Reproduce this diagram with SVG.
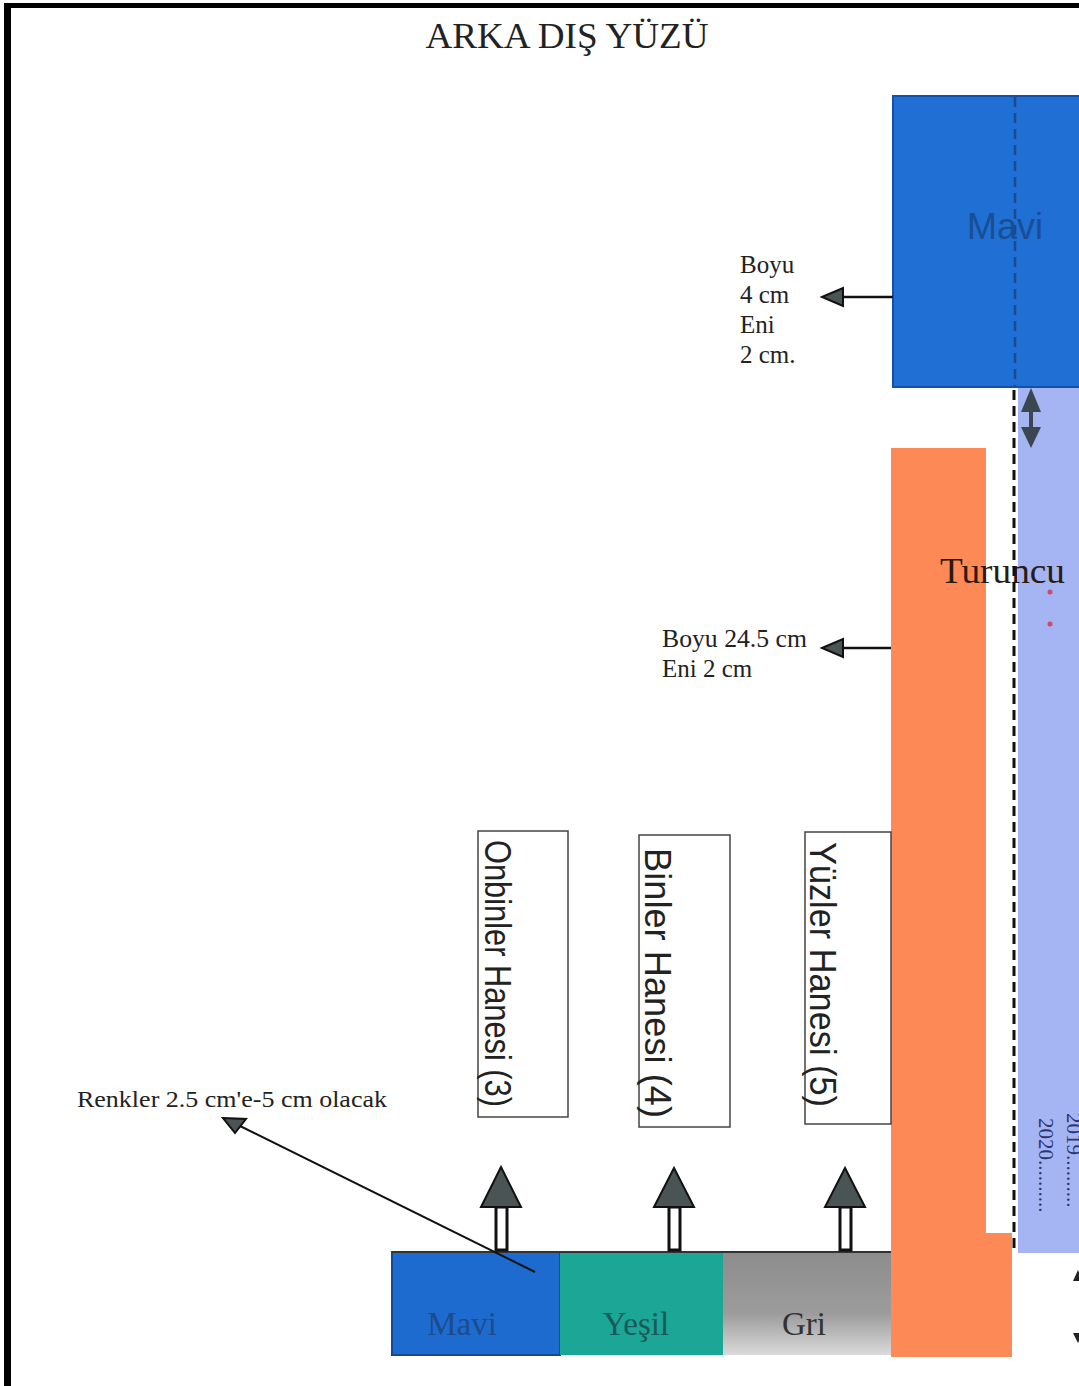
<svg xmlns="http://www.w3.org/2000/svg" width="1079" height="1386" viewBox="0 0 1079 1386">
<style>
.serif{font-family:"Liberation Serif","Times New Roman",serif;}
.sans{font-family:"Liberation Sans",Arial,sans-serif;}
.lbl{font-size:25px;fill:#222;}
.vt{font-size:36px;fill:#222;}
.box{fill:#fff;stroke:#444;stroke-width:1.5;}
.ah{fill:#4a5454;stroke:#111;stroke-width:2;stroke-linejoin:miter;}
.shaft{fill:#fff;stroke:#111;stroke-width:3;}
.ln{stroke:#111;stroke-width:2.5;fill:none;}
</style>
<defs>
<linearGradient id="griG" x1="0" y1="0" x2="0" y2="1">
<stop offset="0" stop-color="#8c8c8c"/>
<stop offset="0.6" stop-color="#9c9c9c"/>
<stop offset="1" stop-color="#dadada"/>
</linearGradient>
</defs>
<rect x="0" y="0" width="1079" height="1386" fill="#fff"/>
<rect x="4" y="3" width="7" height="1383" fill="#000"/>
<rect x="4" y="3" width="1075" height="5" fill="#000"/>

<text id="title" class="serif" x="567" y="48" font-size="36" fill="#222" text-anchor="middle" textLength="283" lengthAdjust="spacingAndGlyphs">ARKA DIŞ YÜZÜ</text>

<g id="light-blue">
<rect x="1018" y="387" width="70" height="866" fill="#a5b4f2"/>
<text class="serif" font-size="21" fill="#2a3570" transform="translate(1067,1113) rotate(90)">2019..........</text>
<text class="serif" font-size="21" fill="#2a3570" transform="translate(1039,1118) rotate(90)">2020..........</text>
<circle cx="1050" cy="592" r="2.5" fill="#d04868"/>
<circle cx="1050" cy="624" r="2.5" fill="#d04868"/>
</g>

<g id="mavi-top">
<rect x="893" y="96" width="200" height="291" fill="#1f6fd5" stroke="#1450a8" stroke-width="2"/>
<text class="sans" x="967" y="239" font-size="36" fill="#1a4e92">Mavi</text>
</g>

<g id="turuncu">
<polygon points="891,448 986,448 986,1233 1012,1233 1012,1357 891,1357" fill="#fd8a56"/>
<text class="serif" x="940" y="583" font-size="36" fill="#2a1a10" textLength="125" lengthAdjust="spacingAndGlyphs">Turuncu</text>
</g>

<g id="dashed-line">
<line x1="1015" y1="97" x2="1015" y2="387" stroke="#1a4a90" stroke-width="2.5" stroke-dasharray="10,6"/>
<line x1="1014" y1="390" x2="1014" y2="1253" stroke="#111" stroke-width="3" stroke-dasharray="10,6"/>
</g>

<g id="label-mavi">
<text class="serif lbl" x="740" y="273">Boyu</text>
<text class="serif lbl" x="740" y="303">4 cm</text>
<text class="serif lbl" x="740" y="333">Eni</text>
<text class="serif lbl" x="740" y="363">2 cm.</text>
</g>

<g id="label-turuncu">
<text class="serif lbl" x="662" y="647" textLength="145" lengthAdjust="spacingAndGlyphs">Boyu 24.5 cm</text>
<text class="serif lbl" x="662" y="677">Eni 2 cm</text>
</g>

<g id="onbinler">
<rect class="box" x="478" y="831" width="90" height="286"/>
<text class="sans vt" transform="translate(485,840) rotate(90)" textLength="267" lengthAdjust="spacingAndGlyphs">Onbinler Hanesi (3)</text>
</g>
<g id="binler">
<rect class="box" x="639" y="835" width="91" height="292"/>
<text class="sans vt" transform="translate(645,848) rotate(90)" textLength="270" lengthAdjust="spacingAndGlyphs">Binler Hanesi (4)</text>
</g>
<g id="yuzler">
<rect class="box" x="805" y="832" width="86" height="292"/>
<text class="sans vt" transform="translate(810,842) rotate(90)" textLength="265" lengthAdjust="spacingAndGlyphs">Yüzler Hanesi (5)</text>
</g>

<g id="renkler-label">
<text class="serif" x="77" y="1107" font-size="23" fill="#222" textLength="310" lengthAdjust="spacingAndGlyphs">Renkler 2.5 cm'e-5 cm olacak</text>
</g>

<g id="bar">
<rect x="392" y="1252" width="168" height="103" fill="#1e6bd0" stroke="#14489a" stroke-width="2"/>
<rect x="560" y="1252" width="163" height="103" fill="#1ba696"/>
<rect x="723" y="1252" width="168" height="103" fill="url(#griG)"/>
<line x1="392" y1="1252" x2="891" y2="1252" stroke="#333" stroke-width="2"/>
<text class="serif" x="462" y="1335" font-size="33" fill="#1c4c8c" text-anchor="middle">Mavi</text>
<text class="serif" x="636" y="1335" font-size="33" fill="#1a5a58" text-anchor="middle">Yeşil</text>
<text class="serif" x="804" y="1335" font-size="33" fill="#333" text-anchor="middle">Gri</text>
</g>

<g id="connectors">
<line class="ln" x1="843" y1="297" x2="893" y2="297"/>
<polygon class="ah" points="822,297 843,288 843,306"/>
<line class="ln" x1="843" y1="648" x2="891" y2="648"/>
<polygon class="ah" points="822,648 843,639 843,657"/>
<rect class="shaft" x="496" y="1207" width="11" height="43"/>
<polygon class="ah" points="501,1167 481,1207 521,1207"/>
<rect class="shaft" x="669" y="1207" width="11" height="43"/>
<polygon class="ah" points="674,1168 654,1207 694,1207"/>
<rect class="shaft" x="840" y="1207" width="11" height="43"/>
<polygon class="ah" points="845,1168 825,1207 865,1207"/>
<line x1="535" y1="1272" x2="240" y2="1126" stroke="#111" stroke-width="2"/>
<polygon class="ah" points="223,1118 246,1119 235,1133"/>
<line x1="1031" y1="408" x2="1031" y2="430" stroke="#3c4650" stroke-width="4"/>
<polygon fill="#3c4650" points="1031,388 1021,412 1041,412"/>
<polygon fill="#3c4650" points="1031,448 1021,427 1041,427"/>
<polygon fill="#222" points="1078,1270 1073,1281 1083,1281"/>
<polygon fill="#222" points="1078,1343 1073,1333 1083,1333"/>
</g>
</svg>
